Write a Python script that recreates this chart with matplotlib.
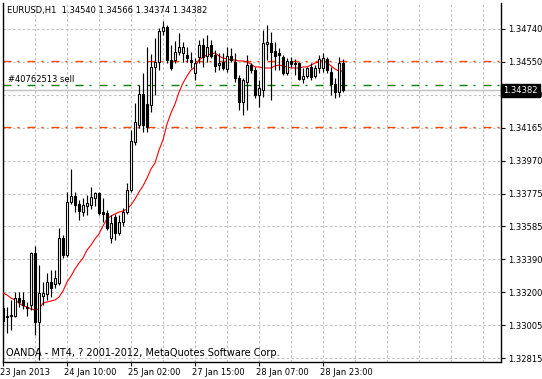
import matplotlib
matplotlib.use('Agg')
import matplotlib.pyplot as plt
import numpy as np
from matplotlib.transforms import blended_transform_factory, ScaledTranslation

plt.rcParams['font.family'] = ['DejaVu Sans']

opens = [1.33108, 1.33061, 1.33061, 1.33061, 1.33166, 1.33155, 1.33114, 1.33125, 1.33430, 1.33026,
         1.33178, 1.33190, 1.33260, 1.33248, 1.33254, 1.33517, 1.33418, 1.33728, 1.33763, 1.33716,
         1.33669, 1.33705, 1.33710, 1.33751, 1.33781, 1.33669, 1.33664, 1.33517, 1.33640, 1.33547,
         1.33611, 1.33669, 1.33798, 1.34079, 1.34178, 1.34360, 1.34301, 1.34295, 1.34518, 1.34547,
         1.34728, 1.34752, 1.34559, 1.34559, 1.34605, 1.34600, 1.34588, 1.34559, 1.34483, 1.34576,
         1.34646, 1.34582, 1.34646, 1.34588, 1.34529, 1.34547, 1.34506, 1.34582, 1.34547, 1.34453,
         1.34313, 1.34430, 1.34529, 1.34500, 1.34354, 1.34383, 1.34652, 1.34658, 1.34611, 1.34600,
         1.34576, 1.34483, 1.34553, 1.34535, 1.34541, 1.34448, 1.34465, 1.34518, 1.34465, 1.34512,
         1.34512, 1.34565, 1.34488, 1.34418, 1.34371, 1.34540]
highs = [1.33125, 1.33114, 1.33155, 1.33201, 1.33201, 1.33201, 1.33143, 1.33435, 1.33471, 1.33359,
         1.33260, 1.33313, 1.33330, 1.33330, 1.33576, 1.33535, 1.33786, 1.33921, 1.33786, 1.33740,
         1.33751, 1.33769, 1.33816, 1.33786, 1.33786, 1.33751, 1.33681, 1.33652, 1.33658, 1.33652,
         1.33693, 1.33839, 1.34149, 1.34307, 1.34412, 1.34483, 1.34635, 1.34594, 1.34687, 1.34746,
         1.34787, 1.34763, 1.34646, 1.34670, 1.34717, 1.34664, 1.34635, 1.34605, 1.34570, 1.34676,
         1.34687, 1.34705, 1.34676, 1.34617, 1.34600, 1.34600, 1.34635, 1.34629, 1.34600, 1.34471,
         1.34453, 1.34588, 1.34541, 1.34518, 1.34442, 1.34734, 1.34763, 1.34722, 1.34664, 1.34629,
         1.34588, 1.34570, 1.34576, 1.34565, 1.34547, 1.34512, 1.34518, 1.34541, 1.34529, 1.34588,
         1.34600, 1.34576, 1.34518, 1.34453, 1.34576, 1.34566]
lows = [1.32979, 1.32962, 1.32979, 1.33055, 1.33114, 1.33102, 1.33061, 1.33096, 1.32950, 1.32804,
        1.33125, 1.33155, 1.33172, 1.33225, 1.33242, 1.33400, 1.33406, 1.33716, 1.33669, 1.33623,
        1.33646, 1.33652, 1.33687, 1.33705, 1.33652, 1.33611, 1.33564, 1.33488, 1.33506, 1.33535,
        1.33588, 1.33658, 1.33786, 1.34061, 1.34161, 1.34137, 1.34137, 1.34254, 1.34354, 1.34500,
        1.34705, 1.34541, 1.34500, 1.34541, 1.34588, 1.34547, 1.34547, 1.34512, 1.34442, 1.34541,
        1.34518, 1.34547, 1.34570, 1.34488, 1.34500, 1.34500, 1.34488, 1.34547, 1.34430, 1.34266,
        1.34237, 1.34266, 1.34483, 1.34336, 1.34284, 1.34342, 1.34559, 1.34325, 1.34500, 1.34500,
        1.34471, 1.34471, 1.34518, 1.34471, 1.34442, 1.34424, 1.34453, 1.34442, 1.34453, 1.34483,
        1.34488, 1.34483, 1.34354, 1.34336, 1.34342, 1.34374]
closes = [1.33032, 1.33055, 1.33067, 1.33166, 1.33143, 1.33125, 1.33108, 1.33430, 1.33026, 1.33196,
          1.33196, 1.33260, 1.33225, 1.33283, 1.33517, 1.33418, 1.33728, 1.33763, 1.33710, 1.33675,
          1.33710, 1.33722, 1.33757, 1.33781, 1.33664, 1.33658, 1.33576, 1.33605, 1.33547, 1.33611,
          1.33669, 1.33798, 1.34085, 1.34196, 1.34360, 1.34178, 1.34167, 1.34518, 1.34547, 1.34728,
          1.34752, 1.34559, 1.34512, 1.34605, 1.34635, 1.34635, 1.34570, 1.34547, 1.34541, 1.34646,
          1.34576, 1.34635, 1.34582, 1.34524, 1.34541, 1.34512, 1.34582, 1.34559, 1.34453, 1.34313,
          1.34442, 1.34529, 1.34500, 1.34354, 1.34395, 1.34658, 1.34664, 1.34605, 1.34582, 1.34588,
          1.34483, 1.34553, 1.34535, 1.34541, 1.34448, 1.34465, 1.34512, 1.34459, 1.34512, 1.34565,
          1.34570, 1.34500, 1.34418, 1.34371, 1.34541, 1.34382]
ma = [1.33196, 1.33184, 1.33166, 1.33155, 1.33137, 1.33120, 1.33114, 1.33102, 1.33096, 1.33102,
      1.33137, 1.33143, 1.33149, 1.33155, 1.33172, 1.33207, 1.33260, 1.33295, 1.33336, 1.33371,
      1.33400, 1.33447, 1.33476, 1.33512, 1.33541, 1.33588, 1.33629, 1.33646, 1.33658, 1.33669,
      1.33675, 1.33687, 1.33710, 1.33746, 1.33786, 1.33822, 1.33868, 1.33921, 1.33956, 1.34032,
      1.34091, 1.34184, 1.34249, 1.34301, 1.34371, 1.34424, 1.34465, 1.34500, 1.34518, 1.34559,
      1.34576, 1.34588, 1.34594, 1.34600, 1.34582, 1.34570, 1.34565, 1.34559, 1.34559, 1.34553,
      1.34553, 1.34547, 1.34535, 1.34518, 1.34518, 1.34512, 1.34512, 1.34512, 1.34524, 1.34529,
      1.34524, 1.34518, 1.34512, 1.34512, 1.34512, 1.34518, 1.34518, 1.34529, 1.34541, 1.34547,
      1.34559, 1.34541, 1.34524, 1.34506, 1.34494, 1.34494]

x_label_bars = [0, 16, 32, 48, 64, 80]
x_labels = ['23 Jan 2013', '24 Jan 10:00', '25 Jan 02:00', '27 Jan 15:00', '28 Jan 07:00', '28 Jan 23:00']
y_tick_labels = ['1.32815', '1.33005', '1.33200', '1.33390', '1.33585', '1.33775',
                 '1.33970', '1.34165', '1.34360', '1.34550', '1.34740']
y_tick_first, y_tick_last = 1.32815, 1.34740
level_orange = [1.34550, 1.34165]
level_sell = 1.34415
sell_label = '#40762513 sell'
bid = 1.34382
title = 'EURUSD,H1  1.34540 1.34566 1.34374 1.34382'
footer = 'OANDA - MT4, ? 2001-2012, MetaQuotes Software Corp.'

W, H = 542, 379
fig = plt.figure(figsize=(W / 100, H / 100), dpi=100)
ax = fig.add_axes([2.5 / W, 1 - 362 / H, (501 - 2.5) / W, (362 - 2.5) / H])
ax.set_facecolor('white')

n = len(opens)
x = np.arange(n)
o = np.array(opens); c = np.array(closes)
ax.vlines(x, lows, highs, color='black', lw=0.85, zorder=4)
bottoms = np.minimum(o, c)
heights = np.abs(c - o)
fcs = ['black' if cc < oo else 'white' for oo, cc in zip(o, c)]
ax.bar(x, heights, bottom=bottoms, width=0.55, color=fcs, edgecolor='black',
       linewidth=0.8, zorder=5)
ax.plot(x, ma, color='#FF0000', lw=0.8, zorder=3)

px = 0.72
for lv in level_orange:
    ax.axhline(lv, color='#FF4500', lw=1.0, dashes=(8 * px, 6 * px, 2 * px, 8 * px), zorder=2.5)
ax.axhline(level_sell, color='#008000', lw=1.0, dashes=(8 * px, 6 * px, 2 * px, 8 * px), zorder=2.5)
ax.axhline(bid, color='#C0C0C0', lw=1.0, zorder=2.4)

ax.set_xlim(-0.125, -0.125 + 498.5 / 4)
ytop = 1.34740 + 26.5 * 5.85e-5
ybot = 1.34740 - 333 * 5.85e-5
ax.set_ylim(ybot, ytop)

yt = np.linspace(y_tick_first, y_tick_last, len(y_tick_labels))
ax.set_yticks(yt)
ax.set_yticklabels(y_tick_labels)
ax.yaxis.tick_right()
ax.tick_params(axis='y', direction='out', length=3, width=0.8, labelsize=6, pad=2, colors='black')

ax.set_xticks(x_label_bars)
ax.set_xticklabels(x_labels)
ax.set_xticks(np.arange(8, 125, 8), minor=True)
ax.tick_params(axis='x', which='major', direction='out', length=3, width=0.8, labelsize=6, pad=1.5)
ax.tick_params(axis='x', which='minor', length=0)
off = ScaledTranslation(-2 / 72, 0, fig.dpi_scale_trans)
for lab in ax.get_xticklabels():
    lab.set_horizontalalignment('left')
    lab.set_transform(lab.get_transform() + off)

ax.grid(True, which='both', axis='x', color='#C0C0C0', lw=0.8, dashes=(3 * px, 3 * px), zorder=0)
ax.grid(True, which='major', axis='y', color='#C0C0C0', lw=0.8, dashes=(3 * px, 3 * px), zorder=0)
ax.set_axisbelow(True)

for s in ax.spines.values():
    s.set_color('black')
    s.set_linewidth(1.0)
ax.spines['top'].set_visible(False)

tr = blended_transform_factory(ax.transAxes, ax.transData)
ax.text(1.0 + 2 / 498.5, bid, '1.34382', transform=tr, ha='left', va='center', fontsize=6,
        color='white', zorder=20, clip_on=False,
        bbox=dict(boxstyle='square,pad=0.25', fc='black', ec='black'))
ax.text(5 / 498.5, level_sell + 0.00005, sell_label, transform=tr, ha='left', va='bottom',
        fontsize=6, color='black', zorder=6)

fig.text(7 / W, 1 - 10 / H, title, fontsize=6, va='center', ha='left', color='black')
ax.text(4 / 498.5, 1.32815 + 0.00003, footer, transform=tr, fontsize=7, va='bottom', ha='left',
        color='black', zorder=6)

fig.savefig('out.png', dpi=100, facecolor='white')
